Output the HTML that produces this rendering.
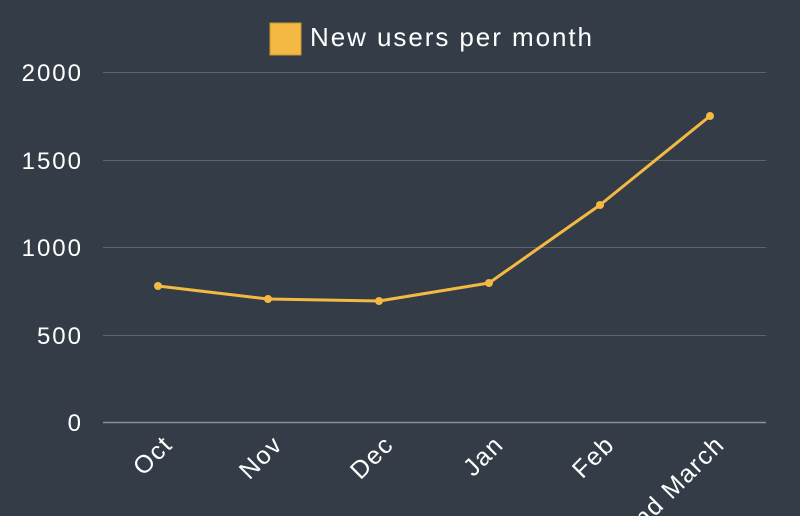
<!DOCTYPE html>
<html><head><style>
html,body{margin:0;padding:0;background:#343d47;width:800px;height:516px;overflow:hidden;}
svg{display:block;overflow:hidden;}
text{font-family:"Liberation Sans",sans-serif;fill:#ffffff;}
</style></head><body>
<svg width="800" height="516" viewBox="0 0 800 516">
<rect width="800" height="516" fill="#343d47"/>
<rect x="270" y="23" width="31" height="32" fill="#f4b942" stroke="#c9952f" stroke-width="1"/>
<text x="310" y="46" font-size="26" textLength="282" lengthAdjust="spacing">New users per month</text>
<g stroke="#5d656e" stroke-width="1">
<line x1="103" y1="72.5" x2="766" y2="72.5"/>
<line x1="103" y1="160.5" x2="766" y2="160.5"/>
<line x1="103" y1="247.5" x2="766" y2="247.5"/>
<line x1="103" y1="335.5" x2="766" y2="335.5"/>
</g>
<line x1="103" y1="422.5" x2="766" y2="422.5" stroke="#8a9096" stroke-width="1.5"/>
<g font-size="24" text-anchor="end" letter-spacing="2">
<text x="83" y="81">2000</text>
<text x="83" y="169">1500</text>
<text x="83" y="256">1000</text>
<text x="83" y="344">500</text>
<text x="83" y="431">0</text>
</g>
<polyline fill="none" stroke="#f4b942" stroke-width="3" stroke-linejoin="round" points="158,286 268,299 379,301 489,283 600,205 710,116"/>
<g fill="#f4b942">
<circle cx="158" cy="286" r="4"/><circle cx="268" cy="299" r="4"/><circle cx="379" cy="301" r="4"/>
<circle cx="489" cy="283" r="4"/><circle cx="600" cy="205" r="4"/><circle cx="710" cy="116" r="4"/>
</g>
<g font-size="25" text-anchor="end" letter-spacing="1.5">
<text transform="translate(174,446) rotate(-45)">Oct</text>
<text transform="translate(284,446) rotate(-45)">Nov</text>
<text transform="translate(395,446) rotate(-45)">Dec</text>
<text transform="translate(505,446) rotate(-45)">Jan</text>
<text transform="translate(616,446) rotate(-45)">Feb</text>
<text transform="translate(726,446) rotate(-45)">End March</text>
</g>
</svg>
</body></html>
